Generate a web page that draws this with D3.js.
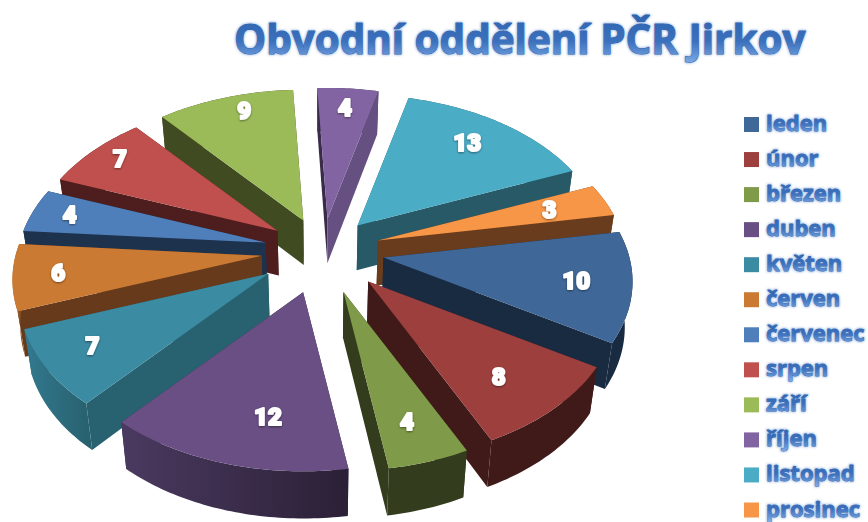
<!DOCTYPE html>
<html><head><meta charset="utf-8">
<script src="https://cdn.jsdelivr.net/npm/d3@7/dist/d3.min.js"></script>
<style>html,body{margin:0;padding:0;background:#fff}svg{display:block}</style>
</head><body><svg id="c" width="868" height="522"></svg>
<script>
const titleText = "Obvodní oddělení PČR Jirkov";
const months = ["leden","únor","březen","duben","květen","červen","červenec","srpen","září","říjen","listopad","prosinec"];
const counts = [10,8,4,12,7,6,4,7,9,4,13,3];
const topColors = ["#3F6797","#9D3F3D","#7F9A48","#694F84","#3B8BA3","#CA7A33","#4F7FBB","#BF504E","#9BBB59","#8264A2","#4BACC6","#F79646"];
const startWall = ["#182B41","#401A19","#333C1C","#3A2C4A","#286270","#683A1C","#1D324D","#4E1D1E","#414B21","#3A2B4A","#285966","#693C1D"];
const endWall   = ["#182B41","#401A19","#333C1C","#3A2C4A","#286270","#683A1C","#1D324D","#4E1D1E","#414B21","#655081","#285966","#693C1D"];
const outerFrom = ["#182B41","#401A19","#333C1C","#4A3A60","#33798F","#B26B2D","#1D324D","#4E1D1E","#414B21","#3A2B4A","#285966","#693C1D"];
const outerTo   = ["#182B41","#401A19","#333C1C","#2B2036","#286270","#8A5223","#1D324D","#4E1D1E","#414B21","#3A2B4A","#285966","#693C1D"];
const labelRadius = [0.78,0.75,0.79,0.74,0.80,0.82,0.84,0.86,0.86,0.83,0.77,0.75];
const labelTurn   = [0.5,2,0.5,-6,1,0,0,1,3,0,-1.5,0];

const svg = d3.select("#c");
const defs = svg.append("defs");
const deg = Math.PI/180;
const cx = 322.5, cy = 250.5, A = 246, B = 151, k = 0.156, burst = 0.245, depth = 45;

function project(theta, r){
  const w = 1 + k*r*Math.cos(theta);
  return [A*r*Math.sin(theta)/w, -B*r*Math.cos(theta)/w];
}
const lower = p => [cx+(p[0]-cx)*0.975, p[1]+depth+0.01*(p[1]-cy)];
const line = d3.line();

const arcs = d3.pie().sort(null).value(d=>d).startAngle(80*deg).endAngle(440*deg)(counts);

const order = arcs.map((a,i)=>({...a,i})).sort((p,q)=>
  Math.cos((q.startAngle+q.endAngle)/2) - Math.cos((p.startAngle+p.endAngle)/2));

const g = svg.append("g");
order.forEach(a=>{
  const i = a.i, mid = (a.startAngle+a.endAngle)/2;
  const off = project(mid,1);
  const ax = cx+burst*off[0], ay = cy+burst*off[1];
  const apex = [ax,ay];
  const n = Math.max(4,Math.ceil((a.endAngle-a.startAngle)/deg));
  const ang = d3.scaleLinear().domain([0,n]).range([a.startAngle,a.endAngle]);
  const rim = d3.range(n+1).map(t=>{const p=project(ang(t),1);return [ax+p[0],ay+p[1]];});
  const rimLow = rim.map(lower);
  const xs = d3.extent(rim,p=>p[0]);
  const id = "o"+i;
  const gr = defs.append("linearGradient").attr("id",id).attr("gradientUnits","userSpaceOnUse")
    .attr("x1",xs[0]).attr("x2",xs[1]).attr("y1",0).attr("y2",0);
  gr.append("stop").attr("offset",0).attr("stop-color",outerFrom[i]);
  gr.append("stop").attr("offset",1).attr("stop-color",outerTo[i]);
  const wall=(p,c)=>g.append("path").attr("d",line([apex,p,lower(p),lower(apex)])+"Z").attr("fill",c);
  const outer=()=>g.append("path").attr("d",line(rim.concat(rimLow.slice().reverse()))+"Z").attr("fill",`url(#${id})`);
  const facesViewer = Math.cos(mid) < 0.2;
  if(!facesViewer) outer();
  wall(rim[0],startWall[i]);
  wall(rim[n],endWall[i]);
  if(facesViewer) outer();
  g.append("path").attr("d",line([apex].concat(rim))+"Z").attr("fill",topColors[i]);
});

// data labels
const glow = defs.append("filter").attr("id","lg").attr("x","-40%").attr("y","-40%").attr("width","180%").attr("height","180%");
glow.append("feDropShadow").attr("dx",0).attr("dy",1).attr("stdDeviation",1.2).attr("flood-color","#000").attr("flood-opacity",0.45);
arcs.forEach((a,i)=>{
  const mid = (a.startAngle+a.endAngle)/2;
  const off = project(mid,1);
  const p = project(mid+labelTurn[i]*deg,labelRadius[i]);
  svg.append("text").text(counts[i])
    .attr("x",cx+burst*off[0]+p[0]).attr("y",cy+burst*off[1]+p[1])
    .attr("text-anchor","middle").attr("dominant-baseline","central")
    .attr("font-family","Roboto").attr("font-weight",900).attr("font-size",24)
    .attr("fill","#fff").attr("stroke","#fff").attr("stroke-width",2).attr("stroke-linejoin","round")
    .attr("filter","url(#lg)");
});

// title and legend text style
const tg = defs.append("linearGradient").attr("id","tg").attr("x1",0).attr("x2",0).attr("y1",0).attr("y2",1);
tg.append("stop").attr("offset",0).attr("stop-color","#2E62AE");
tg.append("stop").attr("offset",0.55).attr("stop-color","#3B70BC");
tg.append("stop").attr("offset",1).attr("stop-color","#86B2EA");
const halo = defs.append("filter").attr("id","h").attr("x","-5%").attr("y","-30%").attr("width","110%").attr("height","160%");
halo.append("feGaussianBlur").attr("in","SourceGraphic").attr("stdDeviation",1.2);

function fancy(sel,x,y,size,txt,anchor,sw,family){
  sel.append("text").text(txt).attr("x",x).attr("y",y).attr("text-anchor",anchor)
    .attr("font-family",family).attr("font-weight",700).attr("font-size",size)
    .attr("fill","none").attr("stroke","#8FB0DE").attr("stroke-width",sw+1.6).attr("stroke-linejoin","round")
    .attr("opacity",0.75).attr("filter","url(#h)");
  sel.append("text").text(txt).attr("x",x).attr("y",y).attr("text-anchor",anchor)
    .attr("font-family",family).attr("font-weight",700).attr("font-size",size)
    .attr("fill","url(#tg)").attr("stroke","#2F63AF").attr("stroke-width",sw).attr("stroke-linejoin","round")
    .attr("paint-order","stroke");
}
fancy(svg,234,54,40.4,titleText,"start",1,"'Open Sans'");

const ly = d3.scalePoint().domain(months).range([124.5,510]);
months.forEach((m,i)=>{
  svg.append("rect").attr("x",744).attr("y",ly(m)-7.5).attr("width",15).attr("height",15).attr("fill",topColors[i]);
  fancy(svg,766,ly(m)+6.5,22,m,"start",0.8,"'Open Sans'");
});
</script></body></html>
